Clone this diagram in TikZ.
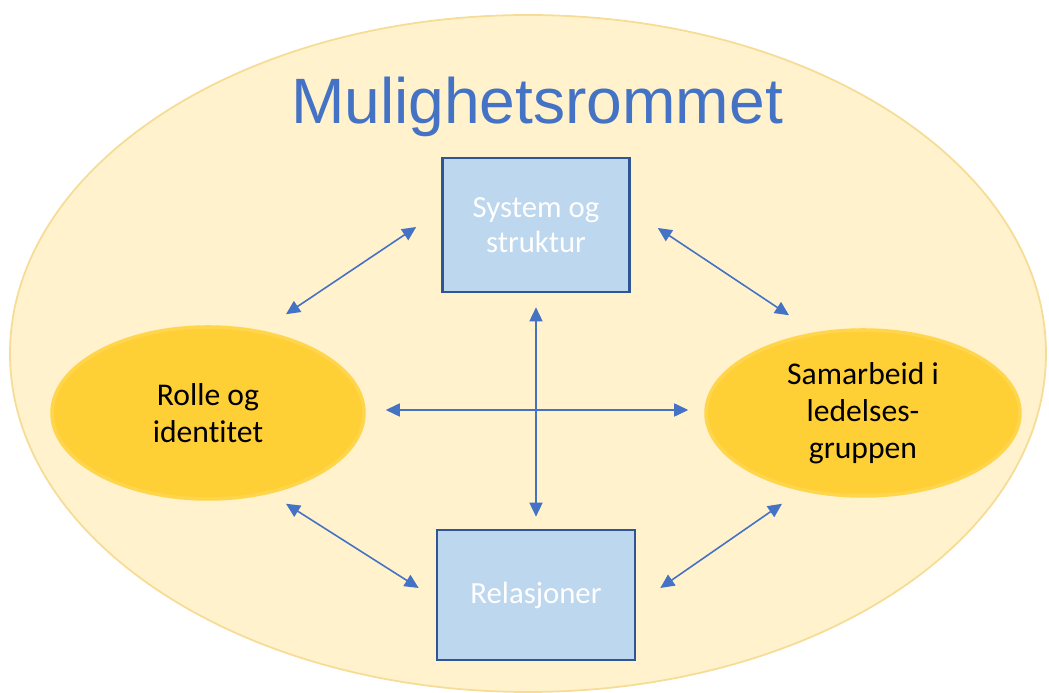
\documentclass[tikz,border=0pt]{standalone}
\usepackage{fontspec}
\setmainfont{Carlito}[Ligatures=NoCommon]
\newfontfamily\titlefont{Liberation Sans}
\usetikzlibrary{shapes.geometric,arrows.meta}

\definecolor{spacefill}{HTML}{FFF2CC}
\definecolor{spaceline}{HTML}{F6DC95}
\definecolor{boxfill}{HTML}{BDD7EE}
\definecolor{boxline}{HTML}{2F5597}
\definecolor{ovalfill}{HTML}{FFD036}
\definecolor{linkblue}{HTML}{4472C4}

\begin{document}
\begin{tikzpicture}[
sysblock/.style={draw=boxline,fill=boxfill,rectangle,line width=1.5pt,minimum width=3.74cm,minimum height=2.68cm,text=white,align=center,font=\fontsize{17.5}{20}\selectfont},
focus/.style={ellipse,fill=ovalfill,draw=ovalfill!85!spacefill,line width=2pt,inner sep=0pt,minimum width=6.24cm,minimum height=3.44cm,align=center,font=\fontsize{18}{21}\selectfont},
link/.style={arrows={Triangle[length=2.8mm,width=2.6mm]-Triangle[length=2.8mm,width=2.6mm]},draw=linkblue,line width=0.9pt}]

\useasboundingbox (0,0) rectangle (20.98,13.86);
\fill[spacefill,draw=spaceline,line width=1pt] (10.56,6.79) ellipse [x radius=10.36,y radius=6.77];

\draw (10.74,11.38) node[anchor=base,text=linkblue,font=\titlefont\fontsize{36.5}{40}\selectfont] (title) {Mulighetsrommet};

\draw (10.72,9.36) node[sysblock] (sys) {System og\\struktur};
\draw (10.72,1.96) node[sysblock,minimum width=3.96cm,minimum height=2.6cm] (rel) {Relasjoner};

\draw (4.16,5.60) node[focus] (rolle) {Rolle og\\identitet};
\draw (17.26,5.60) node[focus,minimum width=6.28cm,minimum height=3.32cm] (samarb) {Samarbeid i\\ledelses-\\gruppen};

% links between the four parts
\draw[link] ([shift={(1.56,0.22)}]rolle.north) -- ([shift={(-0.5,-0.04)}]sys.west);
\draw[link] ([shift={(0.54,-0.06)}]sys.east) -- ([shift={(-1.48,0.26)}]samarb.north);
\draw[link] ([shift={(1.56,-0.06)}]rolle.south) -- ([shift={(-0.34,0.14)}]rel.west);
\draw[link] ([shift={(0.48,0.14)}]rel.east) -- ([shift={(-1.62,-0.12)}]samarb.south);
\draw[link] ([yshift=-0.28cm]sys.south) -- ([yshift=0.24cm]rel.north);
\draw[link] ([shift={(0.4,0.06)}]rolle.east) -- ([shift={(-0.32,0.06)}]samarb.west);

\end{tikzpicture}
\end{document}
